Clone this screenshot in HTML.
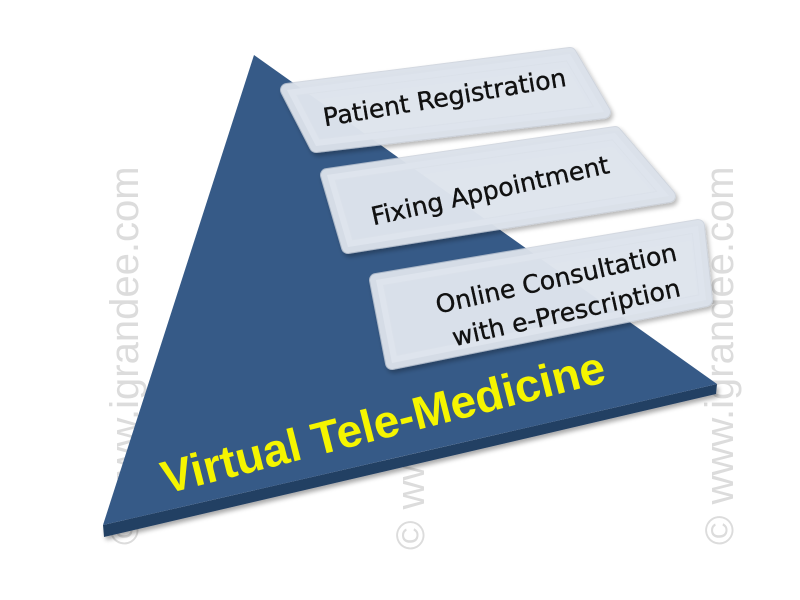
<!DOCTYPE html>
<html><head><meta charset="utf-8"><style>
html,body{margin:0;padding:0;background:#fff;}
svg{display:block;}
</style></head><body>
<svg width="800" height="600" viewBox="0 0 800 600" xmlns="http://www.w3.org/2000/svg">
<defs>
<filter id="sh" x="-10%" y="-10%" width="130%" height="130%"><feGaussianBlur in="SourceAlpha" stdDeviation="2.5"/><feOffset dx="2" dy="3"/><feComponentTransfer><feFuncA type="linear" slope="0.35"/></feComponentTransfer><feMerge><feMergeNode/><feMergeNode in="SourceGraphic"/></feMerge></filter>
</defs>
<g font-family="Liberation Sans, sans-serif" font-size="40" fill="#dcdcdc">
<text transform="translate(138,545) rotate(-90)">© www.igrandee.com</text>
<text transform="translate(424,550) rotate(-90)">© www.igrandee.com</text>
<text transform="translate(733,545) rotate(-90)">© www.igrandee.com</text>
</g>
<polygon points="103,525 717,384 716,394 104,537" fill="#243f63" filter="url(#sh)"/>
<polygon points="254,55 717,384 103,525" fill="#365a87"/>
<text transform="translate(166,494) rotate(-14.3)" font-family="Liberation Sans, sans-serif" font-weight="bold" font-size="46" fill="#f5f500">Virtual Tele-Medicine</text>
<g filter="url(#sh)" stroke="#c9d0da" stroke-width="14" stroke-linejoin="round" fill="#dfe5ee" fill-opacity="0.8" stroke-opacity="0.8">
<polygon points="287,90 570,54 604,112 316,146"/>
<polygon points="327,175 615,133 669,196 348,247"/>
<polygon points="376,280 698,226 706,300 392,363"/>
</g>
<g fill="#dfe5ee" fill-opacity="0.8">
<polygon points="287,90 570,54 604,112 316,146" stroke="#dfe5ee" stroke-opacity="0.8" stroke-width="12" stroke-linejoin="round"/>
<polygon points="327,175 615,133 669,196 348,247" stroke="#dfe5ee" stroke-opacity="0.8" stroke-width="12" stroke-linejoin="round"/>
<polygon points="376,280 698,226 706,300 392,363" stroke="#dfe5ee" stroke-opacity="0.8" stroke-width="12" stroke-linejoin="round"/>
</g>
<g font-family="DejaVu Sans, sans-serif" font-size="25" fill="#111" text-anchor="middle" stroke="#111" stroke-width="0.4">
<text transform="translate(446,106) rotate(-9.5)">Patient Registration</text>
<text transform="translate(492,199) rotate(-12.5)">Fixing Appointment</text>
<text transform="translate(558,287) rotate(-12.5)">Online Consultation</text>
<text transform="translate(568,321) rotate(-12.5)">with e-Prescription</text>
</g>
</svg>
</body></html>
